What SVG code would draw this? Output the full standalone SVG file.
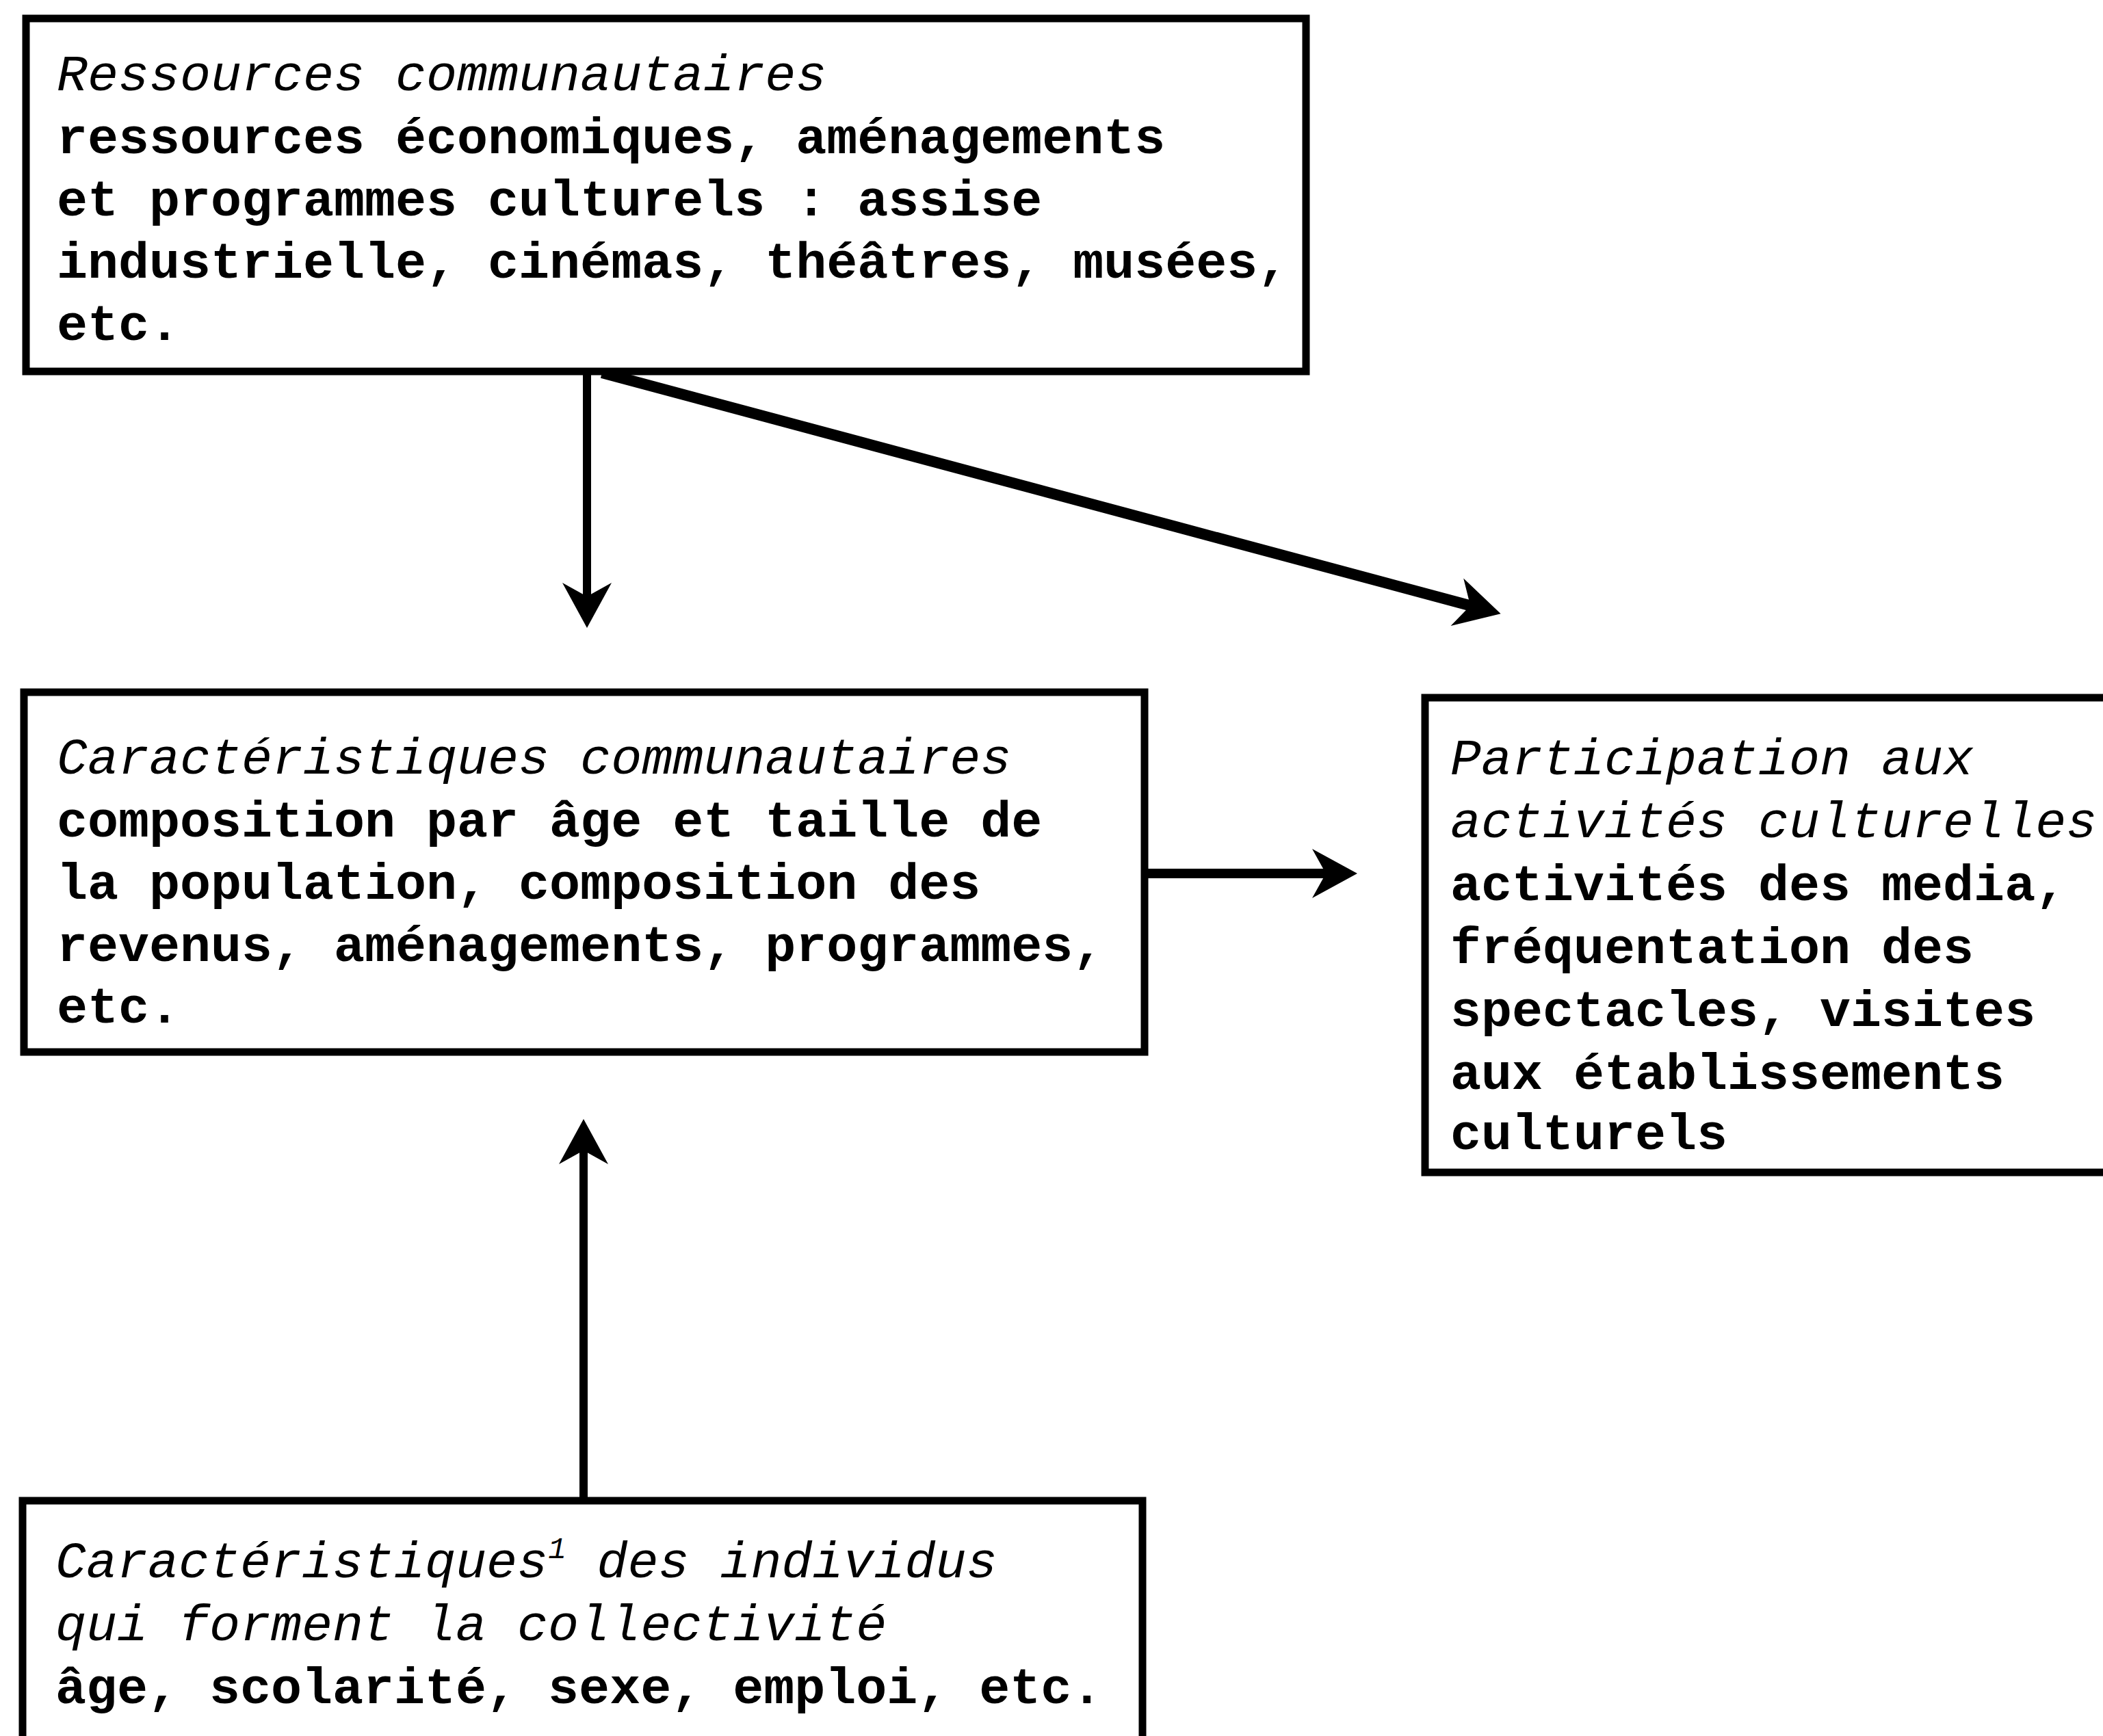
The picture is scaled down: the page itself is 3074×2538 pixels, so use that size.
<svg xmlns="http://www.w3.org/2000/svg" width="3074" height="2538" viewBox="0 0 3074 2538">
<style>
.box{fill:#fff;stroke:#000;stroke-width:11}
.t{font-family:"Liberation Mono","Courier New",monospace;font-size:75px;fill:#000}
.b{font-weight:bold}
.i{font-style:italic}
.c{fill:none;stroke:#000}
</style>
<defs>
<marker id="ah" markerUnits="userSpaceOnUse" viewBox="-70 -40 80 80" markerWidth="80" markerHeight="80" refX="-40" refY="0" orient="auto">
<path d="M0,0 L-66,-36 L-46,0 L-66,36 Z" fill="#000"/>
</marker>
</defs>
<rect width="3074" height="2538" fill="#fff"/>
<g id="connectors">
<line class="c" x1="858" y1="543" x2="858" y2="878" stroke-width="12" marker-end="url(#ah)"/>
<line class="c" x1="880" y1="545" x2="2155" y2="887" stroke-width="16" marker-end="url(#ah)"/>
<line class="c" x1="1673" y1="1277" x2="1944" y2="1277" stroke-width="14" marker-end="url(#ah)"/>
<line class="c" x1="853" y1="2194" x2="853" y2="1676" stroke-width="12" marker-end="url(#ah)"/>
</g>
<g id="ressources">
<rect class="box" x="38" y="27" width="1871" height="516"/>
<text class="t i" x="83" y="132">Ressources communautaires</text>
<text class="t b" x="83" y="224">ressources économiques, aménagements</text>
<text class="t b" x="83" y="315">et programmes culturels : assise</text>
<text class="t b" x="83" y="406">industrielle, cinémas, théâtres, musées,</text>
<text class="t b" x="83" y="497">etc.</text>
</g>
<g id="caracteristiques">
<rect class="box" x="35" y="1012" width="1638" height="526"/>
<text class="t i" x="83" y="1131">Caractéristiques communautaires</text>
<text class="t b" x="83" y="1223">composition par âge et taille de</text>
<text class="t b" x="83" y="1314">la population, composition des</text>
<text class="t b" x="83" y="1405">revenus, aménagements, programmes,</text>
<text class="t b" x="83" y="1495">etc.</text>
</g>
<g id="participation">
<rect class="box" x="2083" y="1020" width="1100" height="694"/>
<text class="t i" x="2120" y="1132">Participation aux</text>
<text class="t i" x="2120" y="1224">activités culturelles</text>
<text class="t b" x="2120" y="1316">activités des media,</text>
<text class="t b" x="2120" y="1408">fréquentation des</text>
<text class="t b" x="2120" y="1500">spectacles, visites</text>
<text class="t b" x="2120" y="1592">aux établissements</text>
<text class="t b" x="2120" y="1680">culturels</text>
</g>
<g id="individus">
<rect class="box" x="33" y="2194" width="1637" height="500"/>
<text class="t i" x="81" y="2306">Caractéristiques<tspan dy="-28" font-size="44">1</tspan><tspan dy="28"> des individus</tspan></text>
<text class="t i" x="81" y="2398">qui forment la collectivité</text>
<text class="t b" x="81" y="2490">âge, scolarité, sexe, emploi, etc.</text>
</g>
</svg>
